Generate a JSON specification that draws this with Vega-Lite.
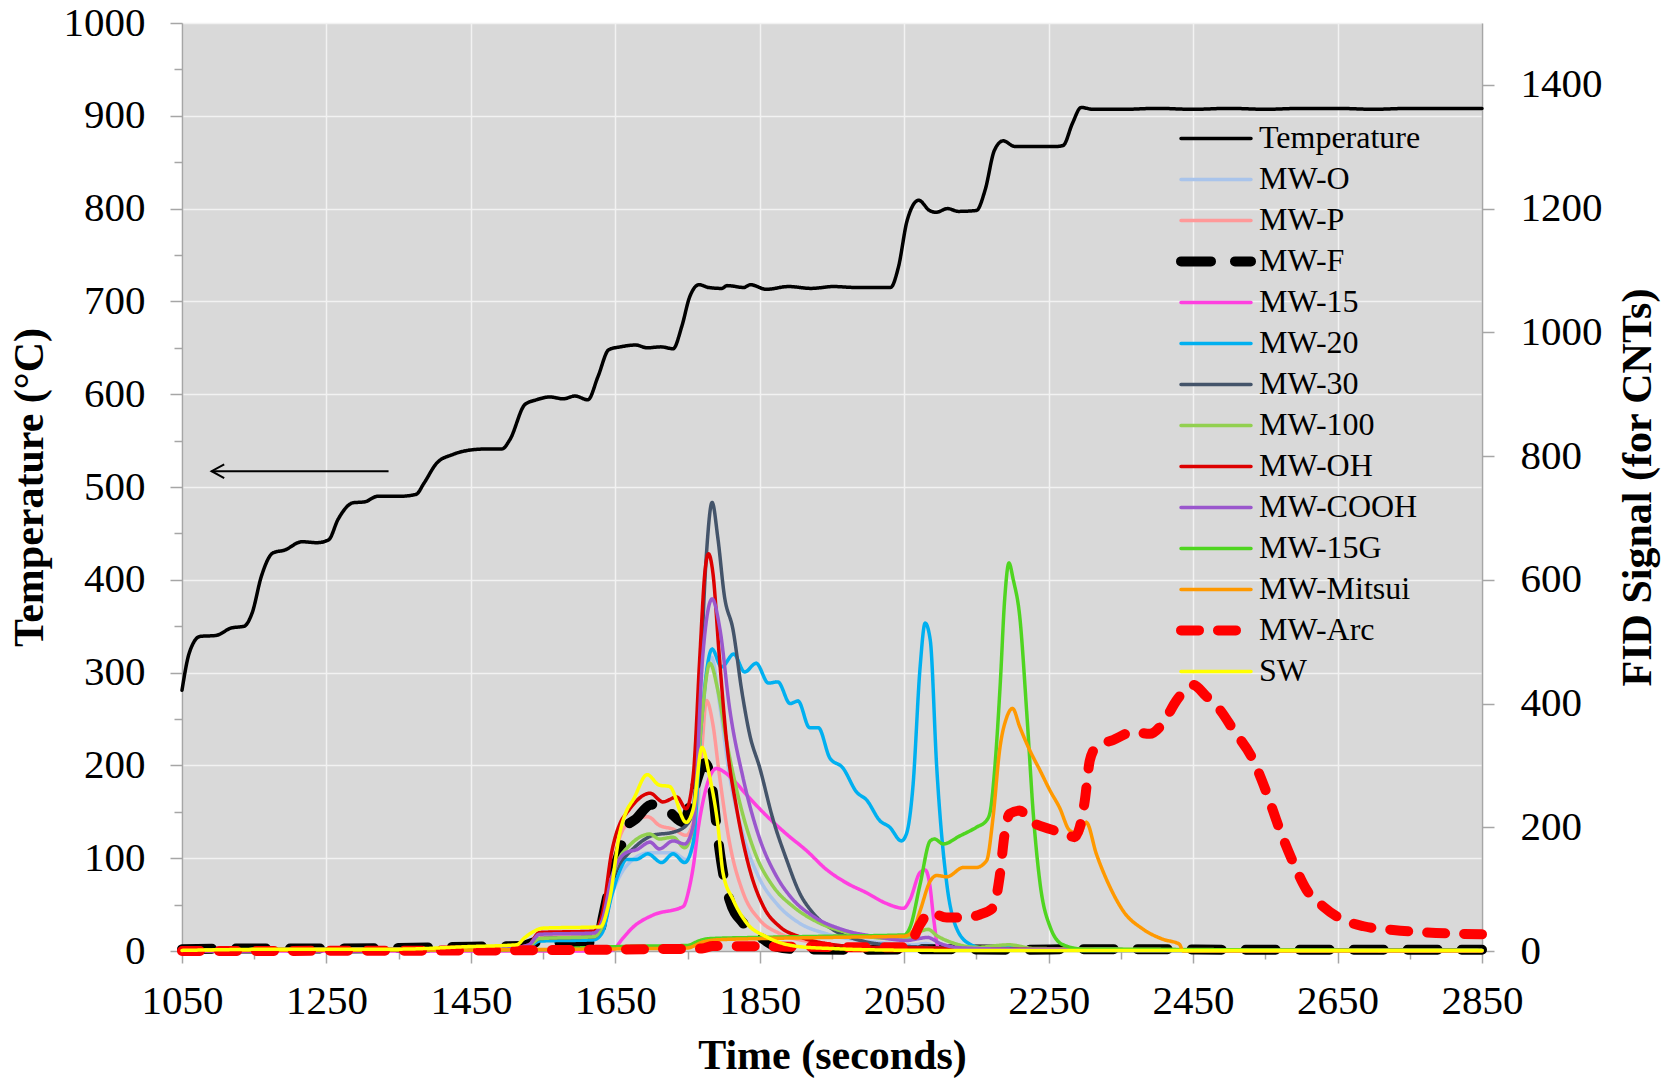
{
  "$schema": "https://vega.github.io/schema/vega-lite/v6.json",
  "width": 1300,
  "height": 928,
  "autosize": {"type": "none"},
  "padding": {"left": 182, "top": 23, "right": 188, "bottom": 128},
  "background": "white",
  "datasets": {
    "temp": [
      {"series":"Temperature","t":1050,"T":281},{"series":"Temperature","t":1060,"T":321},{"series":"Temperature","t":1075,"T":339},{"series":"Temperature","t":1097,"T":340},{"series":"Temperature","t":1118,"T":348},{"series":"Temperature","t":1136,"T":350},{"series":"Temperature","t":1147,"T":364},{"series":"Temperature","t":1160,"T":404},{"series":"Temperature","t":1176,"T":429},{"series":"Temperature","t":1192,"T":432},{"series":"Temperature","t":1216,"T":441},{"series":"Temperature","t":1237,"T":440},{"series":"Temperature","t":1253,"T":443},{"series":"Temperature","t":1266,"T":465},{"series":"Temperature","t":1287,"T":483},{"series":"Temperature","t":1303,"T":484},{"series":"Temperature","t":1321,"T":490},{"series":"Temperature","t":1351,"T":490},{"series":"Temperature","t":1374,"T":492},{"series":"Temperature","t":1385,"T":504},{"series":"Temperature","t":1403,"T":526},{"series":"Temperature","t":1425,"T":535},{"series":"Temperature","t":1451,"T":540},{"series":"Temperature","t":1472,"T":541},{"series":"Temperature","t":1493,"T":541},{"series":"Temperature","t":1504,"T":551},{"series":"Temperature","t":1525,"T":589},{"series":"Temperature","t":1541,"T":594},{"series":"Temperature","t":1559,"T":597},{"series":"Temperature","t":1578,"T":595},{"series":"Temperature","t":1594,"T":598},{"series":"Temperature","t":1612,"T":594},{"series":"Temperature","t":1626,"T":619},{"series":"Temperature","t":1641,"T":648},{"series":"Temperature","t":1657,"T":651},{"series":"Temperature","t":1678,"T":653},{"series":"Temperature","t":1694,"T":650},{"series":"Temperature","t":1713,"T":651},{"series":"Temperature","t":1730,"T":649},{"series":"Temperature","t":1742,"T":673},{"series":"Temperature","t":1753,"T":705},{"series":"Temperature","t":1766,"T":718},{"series":"Temperature","t":1779,"T":715},{"series":"Temperature","t":1797,"T":714},{"series":"Temperature","t":1805,"T":717},{"series":"Temperature","t":1828,"T":715},{"series":"Temperature","t":1837,"T":718},{"series":"Temperature","t":1859,"T":713},{"series":"Temperature","t":1890,"T":716},{"series":"Temperature","t":1921,"T":714},{"series":"Temperature","t":1952,"T":716},{"series":"Temperature","t":1983,"T":715},{"series":"Temperature","t":2014,"T":715},{"series":"Temperature","t":2031,"T":715},{"series":"Temperature","t":2042,"T":737},{"series":"Temperature","t":2054,"T":787},{"series":"Temperature","t":2070,"T":809},{"series":"Temperature","t":2085,"T":798},{"series":"Temperature","t":2094,"T":796},{"series":"Temperature","t":2110,"T":800},{"series":"Temperature","t":2125,"T":797},{"series":"Temperature","t":2150,"T":798},{"series":"Temperature","t":2162,"T":820},{"series":"Temperature","t":2175,"T":863},{"series":"Temperature","t":2187,"T":873},{"series":"Temperature","t":2203,"T":867},{"series":"Temperature","t":2230,"T":867},{"series":"Temperature","t":2261,"T":867},{"series":"Temperature","t":2270,"T":868},{"series":"Temperature","t":2283,"T":892},{"series":"Temperature","t":2295,"T":909},{"series":"Temperature","t":2311,"T":907},{"series":"Temperature","t":2354,"T":907},{"series":"Temperature","t":2400,"T":908},{"series":"Temperature","t":2450,"T":907},{"series":"Temperature","t":2500,"T":908},{"series":"Temperature","t":2550,"T":907},{"series":"Temperature","t":2600,"T":908},{"series":"Temperature","t":2650,"T":908},{"series":"Temperature","t":2700,"T":907},{"series":"Temperature","t":2750,"T":908},{"series":"Temperature","t":2800,"T":908},{"series":"Temperature","t":2850,"T":908}
    ],
    "arrow": [{"t":1091,"t2":1336,"T":517}],
    "fid": [
      {"series":"MW-O","t":1050,"v":2},{"series":"MW-O","t":1300,"v":3},{"series":"MW-O","t":1500,"v":4},{"series":"MW-O","t":1530,"v":6},{"series":"MW-O","t":1545,"v":16},{"series":"MW-O","t":1560,"v":18},{"series":"MW-O","t":1620,"v":19},{"series":"MW-O","t":1632,"v":30},{"series":"MW-O","t":1645,"v":90},{"series":"MW-O","t":1658,"v":125},{"series":"MW-O","t":1665,"v":137},{"series":"MW-O","t":1698,"v":159},{"series":"MW-O","t":1730,"v":159},{"series":"MW-O","t":1748,"v":148},{"series":"MW-O","t":1762,"v":203},{"series":"MW-O","t":1776,"v":448},{"series":"MW-O","t":1783,"v":475},{"series":"MW-O","t":1795,"v":394},{"series":"MW-O","t":1808,"v":285},{"series":"MW-O","t":1827,"v":187},{"series":"MW-O","t":1850,"v":116},{"series":"MW-O","t":1873,"v":77},{"series":"MW-O","t":1905,"v":45},{"series":"MW-O","t":1942,"v":28},{"series":"MW-O","t":1989,"v":17},{"series":"MW-O","t":2035,"v":12},{"series":"MW-O","t":2060,"v":10},{"series":"MW-O","t":2080,"v":12},{"series":"MW-O","t":2100,"v":6},{"series":"MW-O","t":2150,"v":3},{"series":"MW-O","t":2300,"v":1},{"series":"MW-O","t":2850,"v":1},

      {"series":"MW-P","t":1050,"v":2},{"series":"MW-P","t":1500,"v":4},{"series":"MW-P","t":1530,"v":8},{"series":"MW-P","t":1545,"v":22},{"series":"MW-P","t":1620,"v":25},{"series":"MW-P","t":1632,"v":40},{"series":"MW-P","t":1645,"v":130},{"series":"MW-P","t":1658,"v":190},{"series":"MW-P","t":1665,"v":203},{"series":"MW-P","t":1695,"v":217},{"series":"MW-P","t":1711,"v":203},{"series":"MW-P","t":1730,"v":197},{"series":"MW-P","t":1748,"v":187},{"series":"MW-P","t":1762,"v":230},{"series":"MW-P","t":1770,"v":330},{"series":"MW-P","t":1776,"v":405},{"series":"MW-P","t":1785,"v":367},{"series":"MW-P","t":1794,"v":285},{"series":"MW-P","t":1808,"v":176},{"series":"MW-P","t":1827,"v":94},{"series":"MW-P","t":1850,"v":50},{"series":"MW-P","t":1878,"v":28},{"series":"MW-P","t":1919,"v":15},{"series":"MW-P","t":1970,"v":8},{"series":"MW-P","t":2050,"v":5},{"series":"MW-P","t":2100,"v":4},{"series":"MW-P","t":2200,"v":2},{"series":"MW-P","t":2850,"v":1},

      {"series":"MW-F","t":1050,"v":3},{"series":"MW-F","t":1150,"v":4},{"series":"MW-F","t":1250,"v":4},{"series":"MW-F","t":1350,"v":5},{"series":"MW-F","t":1450,"v":7},{"series":"MW-F","t":1520,"v":8},{"series":"MW-F","t":1540,"v":14},{"series":"MW-F","t":1560,"v":14},{"series":"MW-F","t":1600,"v":13},{"series":"MW-F","t":1625,"v":14},{"series":"MW-F","t":1633,"v":56},{"series":"MW-F","t":1645,"v":120},{"series":"MW-F","t":1656,"v":160},{"series":"MW-F","t":1665,"v":200},{"series":"MW-F","t":1679,"v":214},{"series":"MW-F","t":1698,"v":236},{"series":"MW-F","t":1712,"v":238},{"series":"MW-F","t":1725,"v":225},{"series":"MW-F","t":1744,"v":208},{"series":"MW-F","t":1758,"v":257},{"series":"MW-F","t":1774,"v":304},{"series":"MW-F","t":1785,"v":257},{"series":"MW-F","t":1790,"v":203},{"series":"MW-F","t":1799,"v":127},{"series":"MW-F","t":1808,"v":83},{"series":"MW-F","t":1827,"v":45},{"series":"MW-F","t":1850,"v":23},{"series":"MW-F","t":1873,"v":7},{"series":"MW-F","t":1900,"v":3},{"series":"MW-F","t":2000,"v":2},{"series":"MW-F","t":2100,"v":3},{"series":"MW-F","t":2200,"v":2},{"series":"MW-F","t":2300,"v":3},{"series":"MW-F","t":2400,"v":3},{"series":"MW-F","t":2500,"v":2},{"series":"MW-F","t":2850,"v":2},

      {"series":"MW-15","t":1050,"v":0},{"series":"MW-15","t":1640,"v":0},{"series":"MW-15","t":1647,"v":2},{"series":"MW-15","t":1660,"v":20},{"series":"MW-15","t":1675,"v":39},{"series":"MW-15","t":1702,"v":58},{"series":"MW-15","t":1744,"v":72},{"series":"MW-15","t":1752,"v":100},{"series":"MW-15","t":1758,"v":137},{"series":"MW-15","t":1765,"v":200},{"series":"MW-15","t":1772,"v":245},{"series":"MW-15","t":1782,"v":285},{"series":"MW-15","t":1790,"v":295},{"series":"MW-15","t":1800,"v":290},{"series":"MW-15","t":1813,"v":277},{"series":"MW-15","t":1832,"v":252},{"series":"MW-15","t":1859,"v":219},{"series":"MW-15","t":1887,"v":189},{"series":"MW-15","t":1915,"v":162},{"series":"MW-15","t":1942,"v":132},{"series":"MW-15","t":1970,"v":110},{"series":"MW-15","t":1998,"v":94},{"series":"MW-15","t":2025,"v":77},{"series":"MW-15","t":2049,"v":69},{"series":"MW-15","t":2058,"v":83},{"series":"MW-15","t":2072,"v":127},{"series":"MW-15","t":2079,"v":131},{"series":"MW-15","t":2085,"v":110},{"series":"MW-15","t":2091,"v":50},{"series":"MW-15","t":2097,"v":6},{"series":"MW-15","t":2110,"v":2},{"series":"MW-15","t":2850,"v":0},

      {"series":"MW-20","t":1050,"v":2},{"series":"MW-20","t":1500,"v":3},{"series":"MW-20","t":1530,"v":6},{"series":"MW-20","t":1545,"v":16},{"series":"MW-20","t":1620,"v":18},{"series":"MW-20","t":1632,"v":30},{"series":"MW-20","t":1645,"v":90},{"series":"MW-20","t":1658,"v":135},{"series":"MW-20","t":1665,"v":148},{"series":"MW-20","t":1679,"v":148},{"series":"MW-20","t":1695,"v":157},{"series":"MW-20","t":1714,"v":143},{"series":"MW-20","t":1730,"v":157},{"series":"MW-20","t":1746,"v":143},{"series":"MW-20","t":1758,"v":176},{"series":"MW-20","t":1769,"v":367},{"series":"MW-20","t":1784,"v":488},{"series":"MW-20","t":1797,"v":459},{"series":"MW-20","t":1814,"v":480},{"series":"MW-20","t":1829,"v":451},{"series":"MW-20","t":1845,"v":465},{"series":"MW-20","t":1862,"v":433},{"series":"MW-20","t":1875,"v":435},{"series":"MW-20","t":1892,"v":400},{"series":"MW-20","t":1903,"v":404},{"series":"MW-20","t":1919,"v":361},{"series":"MW-20","t":1931,"v":361},{"series":"MW-20","t":1947,"v":312},{"series":"MW-20","t":1965,"v":296},{"series":"MW-20","t":1984,"v":257},{"series":"MW-20","t":1998,"v":244},{"series":"MW-20","t":2016,"v":211},{"series":"MW-20","t":2030,"v":200},{"series":"MW-20","t":2046,"v":178},{"series":"MW-20","t":2053,"v":189},{"series":"MW-20","t":2062,"v":265},{"series":"MW-20","t":2072,"v":459},{"series":"MW-20","t":2079,"v":530},{"series":"MW-20","t":2086,"v":503},{"series":"MW-20","t":2095,"v":297},{"series":"MW-20","t":2109,"v":108},{"series":"MW-20","t":2122,"v":38},{"series":"MW-20","t":2141,"v":11},{"series":"MW-20","t":2159,"v":5},{"series":"MW-20","t":2192,"v":8},{"series":"MW-20","t":2220,"v":3},{"series":"MW-20","t":2300,"v":1},{"series":"MW-20","t":2850,"v":1},

      {"series":"MW-30","t":1050,"v":2},{"series":"MW-30","t":1500,"v":4},{"series":"MW-30","t":1530,"v":8},{"series":"MW-30","t":1545,"v":20},{"series":"MW-30","t":1620,"v":23},{"series":"MW-30","t":1632,"v":40},{"series":"MW-30","t":1645,"v":110},{"series":"MW-30","t":1658,"v":145},{"series":"MW-30","t":1665,"v":154},{"series":"MW-30","t":1702,"v":187},{"series":"MW-30","t":1730,"v":192},{"series":"MW-30","t":1748,"v":203},{"series":"MW-30","t":1758,"v":230},{"series":"MW-30","t":1767,"v":421},{"series":"MW-30","t":1776,"v":639},{"series":"MW-30","t":1784,"v":725},{"series":"MW-30","t":1792,"v":667},{"series":"MW-30","t":1801,"v":574},{"series":"MW-30","t":1813,"v":519},{"series":"MW-30","t":1825,"v":421},{"series":"MW-30","t":1836,"v":350},{"series":"MW-30","t":1850,"v":296},{"series":"MW-30","t":1868,"v":214},{"series":"MW-30","t":1887,"v":148},{"series":"MW-30","t":1905,"v":94},{"series":"MW-30","t":1924,"v":61},{"series":"MW-30","t":1952,"v":34},{"series":"MW-30","t":1989,"v":17},{"series":"MW-30","t":2035,"v":9},{"series":"MW-30","t":2080,"v":6},{"series":"MW-30","t":2150,"v":3},{"series":"MW-30","t":2850,"v":1},

      {"series":"MW-100","t":1050,"v":2},{"series":"MW-100","t":1500,"v":4},{"series":"MW-100","t":1530,"v":8},{"series":"MW-100","t":1545,"v":20},{"series":"MW-100","t":1620,"v":23},{"series":"MW-100","t":1632,"v":40},{"series":"MW-100","t":1645,"v":115},{"series":"MW-100","t":1658,"v":155},{"series":"MW-100","t":1665,"v":165},{"series":"MW-100","t":1698,"v":189},{"series":"MW-100","t":1711,"v":181},{"series":"MW-100","t":1730,"v":184},{"series":"MW-100","t":1746,"v":167},{"series":"MW-100","t":1758,"v":203},{"series":"MW-100","t":1769,"v":367},{"series":"MW-100","t":1781,"v":465},{"series":"MW-100","t":1792,"v":421},{"series":"MW-100","t":1804,"v":339},{"series":"MW-100","t":1822,"v":241},{"series":"MW-100","t":1845,"v":154},{"series":"MW-100","t":1868,"v":105},{"series":"MW-100","t":1896,"v":72},{"series":"MW-100","t":1933,"v":45},{"series":"MW-100","t":1979,"v":28},{"series":"MW-100","t":2035,"v":20},{"series":"MW-100","t":2060,"v":22},{"series":"MW-100","t":2075,"v":33},{"series":"MW-100","t":2083,"v":35},{"series":"MW-100","t":2095,"v":25},{"series":"MW-100","t":2120,"v":12},{"series":"MW-100","t":2150,"v":6},{"series":"MW-100","t":2195,"v":10},{"series":"MW-100","t":2230,"v":4},{"series":"MW-100","t":2850,"v":1},

      {"series":"MW-OH","t":1050,"v":2},{"series":"MW-OH","t":1500,"v":4},{"series":"MW-OH","t":1530,"v":10},{"series":"MW-OH","t":1545,"v":30},{"series":"MW-OH","t":1620,"v":32},{"series":"MW-OH","t":1632,"v":60},{"series":"MW-OH","t":1645,"v":160},{"series":"MW-OH","t":1658,"v":210},{"series":"MW-OH","t":1665,"v":222},{"series":"MW-OH","t":1698,"v":255},{"series":"MW-OH","t":1716,"v":241},{"series":"MW-OH","t":1735,"v":249},{"series":"MW-OH","t":1748,"v":230},{"series":"MW-OH","t":1758,"v":285},{"series":"MW-OH","t":1767,"v":476},{"series":"MW-OH","t":1774,"v":612},{"series":"MW-OH","t":1779,"v":642},{"series":"MW-OH","t":1785,"v":612},{"series":"MW-OH","t":1794,"v":476},{"series":"MW-OH","t":1804,"v":339},{"series":"MW-OH","t":1818,"v":230},{"series":"MW-OH","t":1836,"v":132},{"series":"MW-OH","t":1855,"v":72},{"series":"MW-OH","t":1878,"v":39},{"series":"MW-OH","t":1905,"v":23},{"series":"MW-OH","t":1942,"v":12},{"series":"MW-OH","t":2000,"v":6},{"series":"MW-OH","t":2080,"v":5},{"series":"MW-OH","t":2150,"v":3},{"series":"MW-OH","t":2850,"v":1},

      {"series":"MW-COOH","t":1050,"v":2},{"series":"MW-COOH","t":1500,"v":4},{"series":"MW-COOH","t":1530,"v":10},{"series":"MW-COOH","t":1545,"v":27},{"series":"MW-COOH","t":1620,"v":29},{"series":"MW-COOH","t":1632,"v":50},{"series":"MW-COOH","t":1645,"v":120},{"series":"MW-COOH","t":1658,"v":152},{"series":"MW-COOH","t":1665,"v":159},{"series":"MW-COOH","t":1680,"v":164},{"series":"MW-COOH","t":1698,"v":176},{"series":"MW-COOH","t":1711,"v":165},{"series":"MW-COOH","t":1730,"v":178},{"series":"MW-COOH","t":1746,"v":173},{"series":"MW-COOH","t":1758,"v":203},{"series":"MW-COOH","t":1771,"v":476},{"series":"MW-COOH","t":1784,"v":569},{"series":"MW-COOH","t":1795,"v":519},{"series":"MW-COOH","t":1808,"v":394},{"series":"MW-COOH","t":1827,"v":279},{"series":"MW-COOH","t":1850,"v":181},{"series":"MW-COOH","t":1873,"v":121},{"series":"MW-COOH","t":1896,"v":83},{"series":"MW-COOH","t":1924,"v":56},{"series":"MW-COOH","t":1966,"v":34},{"series":"MW-COOH","t":2012,"v":23},{"series":"MW-COOH","t":2053,"v":17},{"series":"MW-COOH","t":2070,"v":20},{"series":"MW-COOH","t":2082,"v":22},{"series":"MW-COOH","t":2100,"v":12},{"series":"MW-COOH","t":2130,"v":5},{"series":"MW-COOH","t":2200,"v":3},{"series":"MW-COOH","t":2850,"v":1},

      {"series":"MW-15G","t":1050,"v":1},{"series":"MW-15G","t":1550,"v":2},{"series":"MW-15G","t":1600,"v":5},{"series":"MW-15G","t":1650,"v":7},{"series":"MW-15G","t":1700,"v":8},{"series":"MW-15G","t":1750,"v":9},{"series":"MW-15G","t":1765,"v":16},{"series":"MW-15G","t":1780,"v":20},{"series":"MW-15G","t":1850,"v":22},{"series":"MW-15G","t":1950,"v":24},{"series":"MW-15G","t":2050,"v":26},{"series":"MW-15G","t":2058,"v":38},{"series":"MW-15G","t":2072,"v":108},{"series":"MW-15G","t":2086,"v":178},{"series":"MW-15G","t":2092,"v":181},{"series":"MW-15G","t":2104,"v":173},{"series":"MW-15G","t":2127,"v":186},{"series":"MW-15G","t":2150,"v":200},{"series":"MW-15G","t":2164,"v":211},{"series":"MW-15G","t":2169,"v":225},{"series":"MW-15G","t":2175,"v":290},{"series":"MW-15G","t":2183,"v":433},{"series":"MW-15G","t":2189,"v":567},{"series":"MW-15G","t":2195,"v":627},{"series":"MW-15G","t":2201,"v":600},{"series":"MW-15G","t":2210,"v":540},{"series":"MW-15G","t":2220,"v":379},{"series":"MW-15G","t":2229,"v":217},{"series":"MW-15G","t":2238,"v":110},{"series":"MW-15G","t":2252,"v":39},{"series":"MW-15G","t":2270,"v":10},{"series":"MW-15G","t":2298,"v":3},{"series":"MW-15G","t":2850,"v":1},

      {"series":"MW-Mitsui","t":1050,"v":1},{"series":"MW-Mitsui","t":1500,"v":2},{"series":"MW-Mitsui","t":1600,"v":3},{"series":"MW-Mitsui","t":1700,"v":4},{"series":"MW-Mitsui","t":1750,"v":5},{"series":"MW-Mitsui","t":1770,"v":14},{"series":"MW-Mitsui","t":1790,"v":18},{"series":"MW-Mitsui","t":1850,"v":20},{"series":"MW-Mitsui","t":1950,"v":22},{"series":"MW-Mitsui","t":2050,"v":24},{"series":"MW-Mitsui","t":2062,"v":32},{"series":"MW-Mitsui","t":2072,"v":65},{"series":"MW-Mitsui","t":2086,"v":113},{"series":"MW-Mitsui","t":2095,"v":122},{"series":"MW-Mitsui","t":2109,"v":120},{"series":"MW-Mitsui","t":2132,"v":135},{"series":"MW-Mitsui","t":2150,"v":135},{"series":"MW-Mitsui","t":2164,"v":146},{"series":"MW-Mitsui","t":2173,"v":216},{"series":"MW-Mitsui","t":2182,"v":324},{"series":"MW-Mitsui","t":2192,"v":378},{"series":"MW-Mitsui","t":2200,"v":392},{"series":"MW-Mitsui","t":2210,"v":362},{"series":"MW-Mitsui","t":2224,"v":324},{"series":"MW-Mitsui","t":2238,"v":292},{"series":"MW-Mitsui","t":2252,"v":259},{"series":"MW-Mitsui","t":2265,"v":232},{"series":"MW-Mitsui","t":2279,"v":195},{"series":"MW-Mitsui","t":2293,"v":189},{"series":"MW-Mitsui","t":2302,"v":208},{"series":"MW-Mitsui","t":2316,"v":157},{"series":"MW-Mitsui","t":2335,"v":103},{"series":"MW-Mitsui","t":2353,"v":65},{"series":"MW-Mitsui","t":2381,"v":35},{"series":"MW-Mitsui","t":2408,"v":19},{"series":"MW-Mitsui","t":2431,"v":11},{"series":"MW-Mitsui","t":2436,"v":0},{"series":"MW-Mitsui","t":2850,"v":0},

      {"series":"MW-Arc","t":1050,"v":0},{"series":"MW-Arc","t":1500,"v":1},{"series":"MW-Arc","t":1700,"v":3},{"series":"MW-Arc","t":1770,"v":4},{"series":"MW-Arc","t":1785,"v":8},{"series":"MW-Arc","t":1900,"v":7},{"series":"MW-Arc","t":2000,"v":6},{"series":"MW-Arc","t":2050,"v":6},{"series":"MW-Arc","t":2058,"v":11},{"series":"MW-Arc","t":2072,"v":43},{"series":"MW-Arc","t":2086,"v":62},{"series":"MW-Arc","t":2109,"v":54},{"series":"MW-Arc","t":2132,"v":54},{"series":"MW-Arc","t":2155,"v":59},{"series":"MW-Arc","t":2173,"v":70},{"series":"MW-Arc","t":2182,"v":119},{"series":"MW-Arc","t":2189,"v":189},{"series":"MW-Arc","t":2196,"v":222},{"series":"MW-Arc","t":2210,"v":227},{"series":"MW-Arc","t":2224,"v":211},{"series":"MW-Arc","t":2252,"v":197},{"series":"MW-Arc","t":2275,"v":189},{"series":"MW-Arc","t":2286,"v":184},{"series":"MW-Arc","t":2293,"v":200},{"series":"MW-Arc","t":2300,"v":243},{"series":"MW-Arc","t":2307,"v":308},{"series":"MW-Arc","t":2316,"v":330},{"series":"MW-Arc","t":2339,"v":341},{"series":"MW-Arc","t":2367,"v":354},{"series":"MW-Arc","t":2390,"v":351},{"series":"MW-Arc","t":2408,"v":368},{"series":"MW-Arc","t":2427,"v":405},{"series":"MW-Arc","t":2441,"v":424},{"series":"MW-Arc","t":2450,"v":430},{"series":"MW-Arc","t":2468,"v":412},{"series":"MW-Arc","t":2487,"v":390},{"series":"MW-Arc","t":2506,"v":357},{"series":"MW-Arc","t":2533,"v":309},{"series":"MW-Arc","t":2552,"v":255},{"series":"MW-Arc","t":2570,"v":196},{"series":"MW-Arc","t":2589,"v":142},{"series":"MW-Arc","t":2607,"v":99},{"series":"MW-Arc","t":2630,"v":72},{"series":"MW-Arc","t":2653,"v":53},{"series":"MW-Arc","t":2686,"v":40},{"series":"MW-Arc","t":2727,"v":34},{"series":"MW-Arc","t":2773,"v":30},{"series":"MW-Arc","t":2850,"v":27},

      {"series":"SW","t":1050,"v":1},{"series":"SW","t":1200,"v":3},{"series":"SW","t":1350,"v":3},{"series":"SW","t":1444,"v":7},{"series":"SW","t":1513,"v":10},{"series":"SW","t":1525,"v":22},{"series":"SW","t":1536,"v":31},{"series":"SW","t":1550,"v":37},{"series":"SW","t":1629,"v":39},{"series":"SW","t":1642,"v":83},{"series":"SW","t":1656,"v":190},{"series":"SW","t":1665,"v":225},{"series":"SW","t":1675,"v":245},{"series":"SW","t":1694,"v":285},{"series":"SW","t":1711,"v":268},{"series":"SW","t":1725,"v":266},{"series":"SW","t":1748,"v":208},{"series":"SW","t":1758,"v":230},{"series":"SW","t":1770,"v":329},{"series":"SW","t":1780,"v":285},{"series":"SW","t":1792,"v":203},{"series":"SW","t":1799,"v":127},{"series":"SW","t":1813,"v":83},{"series":"SW","t":1832,"v":45},{"series":"SW","t":1859,"v":23},{"series":"SW","t":1905,"v":7},{"series":"SW","t":1950,"v":4},{"series":"SW","t":2000,"v":2},{"series":"SW","t":2100,"v":1},{"series":"SW","t":2850,"v":1}
    ]
  },
  "encoding": {
    "x": {
      "field": "t", "type": "quantitative",
      "scale": {"domain": [1050, 2850], "nice": false, "zero": false},
      "axis": {
        "title": "Time (seconds)",
        "values": [1050,1150,1250,1350,1450,1550,1650,1750,1850,1950,2050,2150,2250,2350,2450,2550,2650,2750,2850],
        "format": "d",
        "labelExpr": "(datum.value - 1050) % 200 == 0 ? datum.label : ''",
        "tickSize": {"condition": {"test": "(datum.value - 1050) % 200 == 0", "value": 12}, "value": 8},
        "gridOpacity": {"condition": {"test": "(datum.value - 1050) % 200 == 0", "value": 1}, "value": 0},
        "labelPadding": 18,
        "labelFlush": false,
        "labelOverlap": false,
        "titleBaseline": "alphabetic",
        "titleY": 117
      }
    }
  },
  "layer": [
    {
      "encoding": {
        "y": {
          "field": "T", "type": "quantitative",
          "scale": {"domain": [0, 1000], "nice": false},
          "axis": {
            "orient": "left",
            "title": "Temperature (°C)",
            "values": [0,50,100,150,200,250,300,350,400,450,500,550,600,650,700,750,800,850,900,950,1000],
            "format": "d",
            "labelExpr": "datum.value % 100 == 0 ? datum.label : ''",
            "tickSize": {"condition": {"test": "datum.value % 100 == 0", "value": 12}, "value": 8},
            "gridOpacity": {"condition": {"test": "datum.value % 100 == 0", "value": 1}, "value": 0},
            "labelPadding": 25,
            "labelBaseline": "middle",
            "labelOverlap": false,
            "labelFlush": false,
            "titleAngle": 270,
            "titleBaseline": "alphabetic",
            "titleAlign": "center",
            "titleX": -140,
            "titleY": 464
          }
        }
      },
      "layer": [
        {
          "data": {"name": "temp"},
          "mark": {"type": "line", "interpolate": "monotone", "strokeCap": "round", "strokeJoin": "round"},
          "encoding": {
            "color": {"field": "series", "type": "nominal", "scale": {"domain": ["Temperature","MW-O","MW-P","MW-F","MW-15","MW-20","MW-30","MW-100","MW-OH","MW-COOH","MW-15G","MW-Mitsui","MW-Arc","SW"], "range": ["#000000","#a9c4eb","#ff9999","#000000","#ff3fe0","#00b0f0","#44546a","#92d050","#dd0000","#9a57cd","#4fd520","#ff9900","#ff0000","#ffff00"]}, "legend": {"title": null, "encode": {"symbols": {"update": {"strokeCap": {"value": "round"}}}}}},
            "strokeDash": {"field": "series", "type": "nominal", "scale": {"domain": ["Temperature","MW-O","MW-P","MW-F","MW-15","MW-20","MW-30","MW-100","MW-OH","MW-COOH","MW-15G","MW-Mitsui","MW-Arc","SW"], "range": [[1,0],[1,0],[1,0],[30,24],[1,0],[1,0],[1,0],[1,0],[1,0],[1,0],[1,0],[1,0],[18,19],[1,0]]}, "legend": {"title": null, "encode": {"symbols": {"update": {"strokeCap": {"value": "round"}}}}}},
            "strokeWidth": {"field": "series", "type": "nominal", "scale": {"type": "ordinal", "domain": ["Temperature","MW-O","MW-P","MW-F","MW-15","MW-20","MW-30","MW-100","MW-OH","MW-COOH","MW-15G","MW-Mitsui","MW-Arc","SW"], "range": [3.5,3.5,3.5,10,3.5,3.5,3.5,3.5,3.5,3.5,3.5,3.5,10,3.5]}, "legend": {"title": null, "encode": {"symbols": {"update": {"strokeCap": {"value": "round"}}}}}}
          }
        },
        {
          "data": {"name": "arrow"},
          "mark": {"type": "rule", "color": "black", "strokeWidth": 2},
          "encoding": {"x2": {"field": "t2"}}
        },
        {
          "data": {"name": "arrow"},
          "mark": {"type": "point", "shape": "M1,-0.55L0,0L1,0.55", "filled": false, "stroke": "black", "strokeWidth": 2, "size": 635, "opacity": 1}
        }
      ]
    },
    {
      "data": {"name": "fid"},
      "mark": {"type": "line", "interpolate": "monotone", "strokeCap": "round", "strokeJoin": "round"},
      "encoding": {
        "y": {
          "field": "v", "type": "quantitative",
          "scale": {"domain": [0, 1500], "nice": false},
          "axis": {
            "orient": "right",
            "title": "FID Signal (for CNTs)",
            "values": [0,200,400,600,800,1000,1200,1400],
            "format": "d",
            "grid": false,
            "tickSize": 12,
            "labelPadding": 26,
            "labelBaseline": "middle",
            "labelOverlap": false,
            "labelFlush": false,
            "titleAngle": 270,
            "titleBaseline": "alphabetic",
            "titleAlign": "center",
            "titleX": 168,
            "titleY": 464
          }
        },
        "color": {"field": "series", "type": "nominal", "scale": {"domain": ["Temperature","MW-O","MW-P","MW-F","MW-15","MW-20","MW-30","MW-100","MW-OH","MW-COOH","MW-15G","MW-Mitsui","MW-Arc","SW"], "range": ["#000000","#a9c4eb","#ff9999","#000000","#ff3fe0","#00b0f0","#44546a","#92d050","#dd0000","#9a57cd","#4fd520","#ff9900","#ff0000","#ffff00"]}, "legend": {"title": null, "encode": {"symbols": {"update": {"strokeCap": {"value": "round"}}}}}},
        "strokeDash": {"field": "series", "type": "nominal", "scale": {"domain": ["Temperature","MW-O","MW-P","MW-F","MW-15","MW-20","MW-30","MW-100","MW-OH","MW-COOH","MW-15G","MW-Mitsui","MW-Arc","SW"], "range": [[1,0],[1,0],[1,0],[30,24],[1,0],[1,0],[1,0],[1,0],[1,0],[1,0],[1,0],[1,0],[18,19],[1,0]]}, "legend": {"title": null, "encode": {"symbols": {"update": {"strokeCap": {"value": "round"}}}}}},
        "strokeWidth": {"field": "series", "type": "nominal", "scale": {"type": "ordinal", "domain": ["Temperature","MW-O","MW-P","MW-F","MW-15","MW-20","MW-30","MW-100","MW-OH","MW-COOH","MW-15G","MW-Mitsui","MW-Arc","SW"], "range": [3.5,3.5,3.5,10,3.5,3.5,3.5,3.5,3.5,3.5,3.5,3.5,10,3.5]}, "legend": {"title": null, "encode": {"symbols": {"update": {"strokeCap": {"value": "round"}}}}}}
      }
    }
  ],
  "resolve": {"scale": {"y": "independent"}, "axis": {"y": "independent"}},
  "config": {
    "view": {"fill": "#d9d9d9", "stroke": null},
    "font": "Liberation Serif",
    "axis": {
      "labelFont": "Liberation Serif", "labelFontSize": 41, "labelColor": "black",
      "titleFont": "Liberation Serif", "titleFontSize": 42, "titleFontWeight": "bold", "titleColor": "black",
      "domainColor": "#a6a6a6", "domainWidth": 1.5,
      "tickColor": "#a6a6a6", "tickWidth": 1.5,
      "gridColor": "#f2f2f2", "gridWidth": 1.5
    },
    "legend": {
      "orient": "none",
      "legendX": 994,
      "legendY": 95,
      "padding": 0,
      "symbolType": "stroke",
      "symbolSize": 4900,
      "labelFont": "Liberation Serif",
      "labelFontSize": 32,
      "labelColor": "black",
      "labelOffset": 3,
      "labelLimit": 400,
      "clipHeight": 40.75,
      "rowPadding": 0,
      "columns": 1
    }
  }
}
